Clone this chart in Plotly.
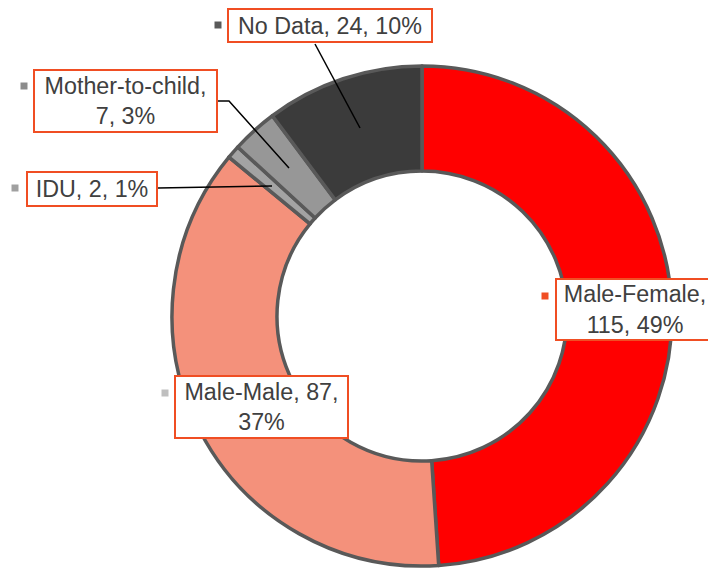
import plotly.graph_objects as go

W, H = 708, 569

categories = ["Male-Female", "Male-Male", "IDU", "Mother-to-child", "No Data"]
counts = [115, 87, 2, 7, 24]
percents = [49, 37, 1, 3, 10]
slice_colors = ["#FF0000", "#F4917B", "#A3A3A3", "#979797", "#3B3B3B"]
key_colors = ["#F04E23", "#BFBFBF", "#A0A0A0", "#8C8C8C", "#5A5A5A"]

# label text, split the way the reference wraps it
label_text = [
    f"{categories[0]},<br>{counts[0]}, {percents[0]}%",
    f"{categories[1]}, {counts[1]},<br>{percents[1]}%",
    f"{categories[2]}, {counts[2]}, {percents[2]}%",
    f"{categories[3]},<br>{counts[3]}, {percents[3]}%",
    f"{categories[4]}, {counts[4]}, {percents[4]}%",
]

# label boxes in pixels: left, top, right, bottom
boxes = [
    (555, 278, 715, 341),
    (174, 375, 349, 439),
    (26, 171, 158, 207),
    (33, 69, 218, 133),
    (227, 8, 433, 43),
]
# legend key squares (centre)
keys = [(545, 296), (165, 393), (15, 188), (24, 86), (218, 25)]
# leader lines
leaders = [
    None,
    None,
    [(158, 188), (272, 186)],
    [(218, 101), (229, 101), (289, 168)],
    [(315, 44), (360, 128)],
]


def px(x):
    return x / W


def py(y):
    return 1 - y / H


fig = go.Figure(go.Pie(
    labels=categories,
    values=counts,
    sort=False,
    direction="clockwise",
    rotation=0,
    hole=0.58,
    textinfo="none",
    marker=dict(colors=slice_colors, line=dict(color="#595959", width=3.5)),
    domain=dict(x=[px(172), px(672)], y=[py(566), py(66)]),
    showlegend=False,
))

shapes = []
annotations = []
for i, (l, t, r, b) in enumerate(boxes):
    annotations.append(dict(
        x=px((l + r) / 2), y=py((t + b) / 2), xref="paper", yref="paper",
        xanchor="center", yanchor="middle", showarrow=False,
        text=label_text[i], align="center",
        width=r - l - 6, height=b - t - 6,
        bordercolor="#F04E23", borderwidth=2, borderpad=1, bgcolor="white",
        font=dict(family="Liberation Sans, Arial", size=23.3, color="#404040"),
    ))
    kx, ky = keys[i]
    shapes.append(dict(
        type="rect", xref="paper", yref="paper",
        x0=px(kx - 3.5), x1=px(kx + 3.5), y0=py(ky + 3.5), y1=py(ky - 3.5),
        fillcolor=key_colors[i], line=dict(width=0),
    ))
    if leaders[i]:
        pts = leaders[i]
        path = "M " + " L ".join(f"{px(x)},{py(y)}" for x, y in pts)
        shapes.append(dict(type="path", xref="paper", yref="paper", path=path,
                           line=dict(color="black", width=1.5)))

fig.update_layout(
    width=W, height=H,
    margin=dict(l=0, r=0, t=0, b=0),
    paper_bgcolor="white", plot_bgcolor="white",
    shapes=shapes, annotations=annotations,
)

# drop the browser's default body margin so the figure sits at the top-left corner
fig.write_html(
    "out.html",
    config={"displayModeBar": False},
    post_script="document.body.style.margin='0';",
)
